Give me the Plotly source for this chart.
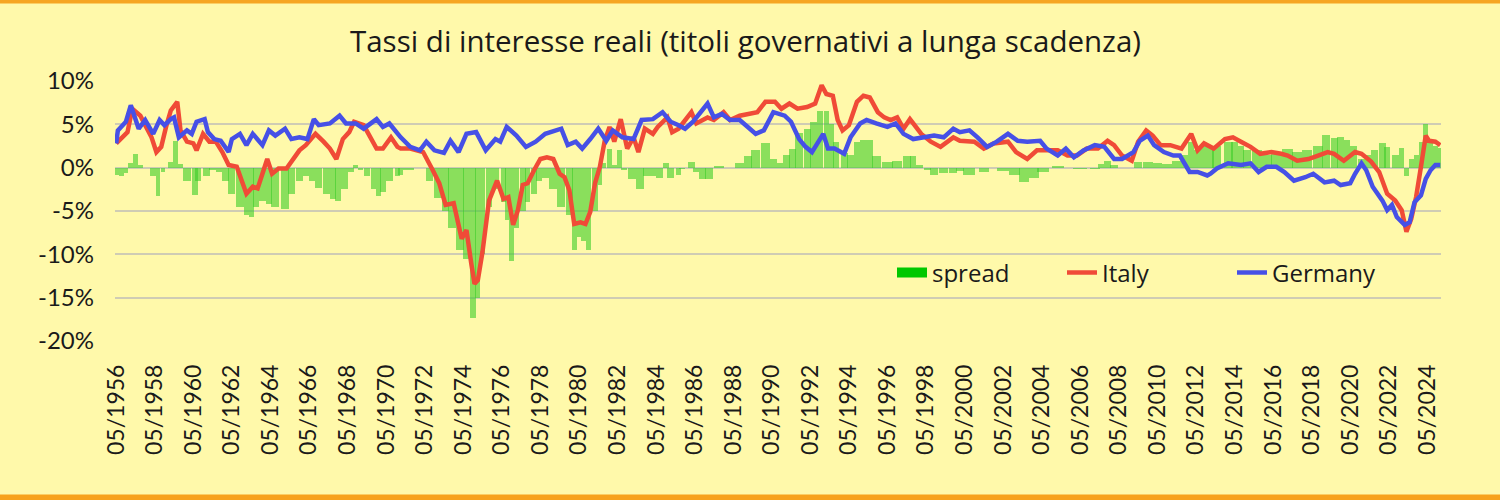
import numpy as np
import pandas as pd
import plotly.graph_objects as go

# ---------------- data ----------------
italy_dates = [
    "1956-05", "1956-09", "1956-12", "1957-03", "1957-08", "1957-11", "1958-03", "1958-06", "1958-09", "1958-12",
    "1959-03", "1959-07", "1959-09", "1960-01", "1960-05", "1960-07", "1960-11", "1961-03", "1961-07", "1961-11",
    "1962-03", "1962-08", "1963-02", "1963-06", "1963-09", "1963-12", "1964-03", "1964-06", "1964-10", "1965-03",
    "1965-07", "1965-11", "1966-03", "1966-09", "1967-02", "1967-06", "1967-10", "1968-02", "1968-06", "1968-09",
    "1969-03", "1969-07", "1969-11", "1970-03", "1970-08", "1970-12", "1971-02", "1971-08", "1972-04", "1972-10",
    "1973-02", "1973-06", "1973-11", "1974-04", "1974-07", "1974-10", "1974-12", "1975-02", "1975-05", "1975-09",
    "1976-02", "1976-06", "1976-09", "1976-12", "1977-03", "1977-06", "1977-09", "1978-01", "1978-05", "1978-09",
    "1979-01", "1979-05", "1979-08", "1979-11", "1980-02", "1980-06", "1980-09", "1980-12", "1981-03", "1981-06",
    "1981-09", "1981-12", "1982-03", "1982-07", "1982-11", "1983-03", "1983-06", "1983-10", "1984-03", "1984-06",
    "1984-12", "1985-03", "1985-07", "1986-03", "1986-06", "1987-01", "1987-05", "1987-11", "1988-03", "1988-09",
    "1989-03", "1989-08", "1990-01", "1990-07", "1990-11", "1991-04", "1991-09", "1992-03", "1992-08", "1992-12",
    "1993-03", "1993-07", "1993-10", "1994-01", "1994-05", "1994-10", "1995-02", "1995-06", "1995-11", "1996-03",
    "1996-07", "1996-11", "1997-03", "1997-07", "1998-02", "1998-08", "1999-02", "1999-06", "1999-10", "2000-02",
    "2000-07", "2000-11", "2001-05", "2001-11", "2002-08", "2003-01", "2003-08", "2004-02", "2004-08", "2005-03",
    "2005-09", "2006-03", "2006-09", "2007-04", "2007-10", "2008-02", "2008-07", "2009-01", "2009-05", "2009-10",
    "2010-02", "2010-07", "2011-01", "2011-08", "2012-02", "2012-06", "2012-10", "2013-04", "2013-11", "2014-04",
    "2014-09", "2015-03", "2015-09", "2016-04", "2016-10", "2017-02", "2017-08", "2018-03", "2018-09", "2019-03",
    "2019-07", "2020-01", "2020-08", "2020-12", "2021-06", "2021-11", "2022-04", "2022-09", "2023-01", "2023-04",
    "2023-07", "2023-10", "2024-01", "2024-04", "2024-06", "2024-10", "2025-01",
]
italy_vals = [
    2.8, 3.5, 4.1, 6.8, 6.0, 4.9, 3.5, 1.8, 2.4, 4.7,
    6.6, 7.6, 4.3, 3.0, 2.8, 2.0, 3.9, 3.0, 3.0, 1.8,
    0.3, 0.1, -3.0, -2.2, -2.4, -0.7, 1.0, -0.7, -0.1, -0.1,
    1.0, 2.0, 2.6, 3.9, 3.0, 2.2, 1.0, 3.3, 4.1, 5.3,
    4.9, 3.5, 2.2, 2.2, 3.5, 2.4, 2.2, 2.2, 1.8, -0.3,
    -1.8, -4.3, -4.1, -8.2, -7.2, -11.1, -13.4, -13.0, -9.7, -3.8,
    -1.5, -3.6, -3.4, -6.6, -4.9, -2.0, -1.8, -0.3, 1.0, 1.2,
    1.0, -0.7, -1.1, -2.6, -6.5, -6.3, -6.5, -5.1, -1.8, 0.1,
    3.1, 4.7, 3.0, 5.6, 2.2, 3.5, 1.8, 4.5, 3.9, 4.7,
    5.8, 4.1, 4.5, 6.4, 5.1, 5.8, 5.5, 6.4, 5.5, 6.0,
    6.2, 6.4, 7.6, 7.6, 6.8, 7.4, 6.8, 7.0, 7.4, 9.5,
    8.5, 8.3, 5.5, 4.3, 4.9, 7.6, 8.3, 8.1, 6.4, 5.8,
    5.5, 5.8, 4.5, 5.6, 3.9, 3.0, 2.4, 3.0, 3.5, 3.1,
    3.1, 3.0, 2.2, 2.8, 3.0, 1.8, 1.0, 2.0, 2.0, 2.0,
    1.4, 1.4, 2.2, 2.2, 3.1, 2.6, 1.4, 0.8, 3.0, 4.3,
    3.7, 2.6, 2.6, 2.2, 3.9, 2.0, 2.8, 2.2, 3.3, 3.5,
    3.0, 2.4, 1.6, 1.8, 1.6, 1.4, 0.8, 1.0, 1.4, 1.8,
    1.6, 0.8, 1.8, 1.6, 0.7, -0.5, -3.0, -3.8, -4.9, -7.4,
    -5.9, -3.4, 0.1, 3.7, 3.1, 3.0, 2.6,
]

germany_dates = [
    "1956-05", "1956-06", "1956-09", "1956-11", "1957-02", "1957-05", "1957-07", "1957-11", "1958-04", "1958-08",
    "1958-11", "1959-03", "1959-05", "1959-08", "1960-01", "1960-04", "1960-07", "1960-12", "1961-02", "1961-06",
    "1961-10", "1962-03", "1962-05", "1962-10", "1963-02", "1963-06", "1963-12", "1964-04", "1964-08", "1965-02",
    "1965-06", "1965-11", "1966-04", "1966-08", "1966-11", "1967-06", "1967-12", "1968-04", "1968-10", "1969-03",
    "1969-11", "1970-03", "1970-07", "1971-02", "1971-08", "1972-02", "1972-06", "1972-11", "1973-05", "1973-09",
    "1974-02", "1974-07", "1975-01", "1975-07", "1976-01", "1976-04", "1976-08", "1977-02", "1977-08", "1978-02",
    "1978-08", "1979-06", "1979-10", "1980-03", "1980-07", "1980-12", "1981-05", "1981-10", "1982-02", "1982-08",
    "1983-03", "1983-08", "1984-03", "1984-09", "1985-02", "1985-07", "1985-11", "1986-04", "1986-08", "1987-01",
    "1987-05", "1987-10", "1988-03", "1988-09", "1989-02", "1989-07", "1989-12", "1990-06", "1991-01", "1991-05",
    "1991-10", "1992-02", "1992-06", "1992-10", "1993-01", "1993-04", "1993-08", "1994-02", "1994-06", "1994-12",
    "1995-04", "1995-10", "1996-05", "1996-10", "1997-03", "1997-09", "1998-04", "1998-10", "1999-04", "1999-10",
    "2000-02", "2000-08", "2001-01", "2001-07", "2002-01", "2002-08", "2003-02", "2003-08", "2004-04", "2004-08",
    "2005-03", "2005-08", "2006-01", "2006-07", "2007-02", "2007-08", "2008-02", "2008-07", "2009-02", "2009-06",
    "2009-11", "2010-03", "2010-09", "2011-03", "2011-07", "2012-01", "2012-06", "2012-12", "2013-02", "2013-06",
    "2014-01", "2014-09", "2015-03", "2015-08", "2016-01", "2016-07", "2016-12", "2017-06", "2018-01", "2018-06",
    "2019-01", "2019-07", "2019-11", "2020-05", "2020-08", "2020-12", "2021-03", "2021-07", "2022-01", "2022-04",
    "2022-07", "2022-10", "2023-03", "2023-06", "2023-09", "2024-01", "2024-04", "2024-07", "2024-10", "2025-01",
]
germany_vals = [
    2.8, 4.3, 4.9, 5.3, 7.2, 5.6, 4.5, 5.5, 3.9, 5.5,
    4.9, 5.6, 5.8, 3.5, 4.3, 3.9, 5.3, 5.6, 4.1, 3.3,
    3.1, 1.8, 3.3, 3.9, 2.6, 3.9, 2.6, 4.3, 3.7, 4.5,
    3.3, 3.5, 3.3, 5.6, 4.9, 5.1, 6.0, 5.1, 5.1, 4.5,
    5.6, 4.7, 5.1, 3.5, 2.4, 2.0, 3.0, 2.0, 1.7, 3.1,
    1.8, 3.9, 4.1, 2.0, 3.3, 3.0, 4.7, 3.7, 2.4, 3.0,
    3.9, 4.5, 2.6, 3.0, 2.2, 3.3, 4.5, 3.1, 4.3, 3.5,
    3.3, 5.5, 5.6, 6.4, 5.3, 4.9, 4.5, 5.3, 6.2, 7.4,
    5.8, 6.2, 5.5, 5.5, 4.7, 3.9, 4.3, 6.4, 6.0, 5.3,
    3.3, 2.4, 1.8, 3.0, 3.9, 2.2, 2.2, 1.6, 3.5, 5.1,
    5.5, 5.1, 4.7, 5.1, 3.9, 3.3, 3.5, 3.7, 3.5, 4.5,
    4.1, 4.3, 3.5, 2.4, 3.0, 3.9, 3.1, 3.0, 3.1, 2.2,
    1.4, 2.2, 1.2, 2.0, 2.6, 2.4, 1.0, 1.0, 1.8, 3.1,
    3.7, 2.6, 1.8, 1.4, 1.4, -0.5, -0.5, -0.9, -0.7, -0.1,
    0.5, 0.3, 0.5, -0.5, 0.1, 0.1, -0.5, -1.5, -1.1, -0.7,
    -1.7, -1.5, -2.0, -1.8, -0.7, 0.5, -0.3, -2.2, -3.8, -4.9,
    -4.3, -5.7, -6.6, -6.3, -4.0, -3.2, -1.3, -0.3, 0.3, 0.3,
]

spread_dates = [
    "1956-05", "1956-08", "1956-11", "1957-02", "1957-05", "1957-08", "1957-11", "1958-04", "1958-07", "1958-10",
    "1958-12", "1959-03", "1959-06", "1959-09", "1960-01", "1960-06", "1960-08", "1961-01", "1961-05", "1961-09",
    "1962-01", "1962-05", "1962-10", "1963-02", "1963-05", "1963-08", "1963-12", "1964-04", "1964-08", "1965-02",
    "1965-06", "1965-11", "1966-03", "1966-07", "1966-11", "1967-04", "1967-08", "1967-11", "1968-03", "1968-07",
    "1968-10", "1969-01", "1969-05", "1969-09", "1969-12", "1970-03", "1970-07", "1970-12", "1971-02", "1971-07",
    "1972-04", "1972-08", "1973-01", "1973-06", "1973-10", "1974-03", "1974-07", "1974-11", "1975-02", "1975-05",
    "1975-09", "1976-01", "1976-06", "1976-08", "1976-11", "1977-02", "1977-06", "1977-09", "1978-01", "1978-04",
    "1978-08", "1979-01", "1979-06", "1979-11", "1980-02", "1980-05", "1980-08", "1980-11", "1981-03", "1981-06",
    "1981-08", "1981-12", "1982-03", "1982-06", "1982-09", "1983-02", "1983-07", "1983-11", "1984-03", "1984-07",
    "1984-11", "1985-02", "1985-07", "1985-09", "1986-03", "1986-06", "1986-10", "1987-02", "1987-08", "1988-03",
    "1988-09", "1989-02", "1989-07", "1990-01", "1990-06", "1990-10", "1991-02", "1991-06", "1991-10", "1992-03",
    "1992-07", "1992-11", "1993-03", "1993-06", "1993-09", "1994-02", "1994-06", "1994-10", "1995-02", "1995-06",
    "1995-10", "1996-05", "1996-11", "1997-05", "1997-09", "1998-01", "1998-06", "1998-10", "1999-04", "1999-10",
    "2000-02", "2000-08", "2001-05", "2001-09", "2002-05", "2002-12", "2003-06", "2003-12", "2004-06", "2005-03",
    "2005-09", "2006-05", "2007-02", "2007-06", "2007-10", "2008-02", "2008-07", "2009-01", "2009-05", "2009-11",
    "2010-05", "2010-11", "2011-05", "2011-10", "2012-02", "2012-06", "2012-10", "2013-02", "2013-06", "2014-01",
    "2014-05", "2014-09", "2015-01", "2015-07", "2016-01", "2016-07", "2017-02", "2017-08", "2018-02", "2018-09",
    "2019-02", "2019-07", "2019-11", "2020-03", "2020-07", "2020-12", "2021-04", "2021-08", "2022-01", "2022-04",
    "2022-09", "2023-01", "2023-04", "2023-07", "2023-10", "2024-01", "2024-04", "2024-07", "2024-10", "2025-01",
]
spread_vals = [
    -0.8, -1.0, -0.6, 0.5, 1.6, 0.3, 0.0, -1.0, -3.3, -0.5,
    0.0, 0.7, 3.1, 0.4, -1.5, -3.2, -1.5, -1.0, -0.3, -0.5,
    -1.5, -3.0, -4.5, -5.5, -5.7, -4.5, -3.8, -4.2, -4.5, -4.8,
    -3.0, -1.5, -1.0, -1.5, -2.3, -3.0, -3.6, -3.8, -2.5, -0.5,
    0.3, -0.3, -1.0, -2.5, -3.3, -2.8, -1.5, -1.0, -0.8, -0.3,
    0.0, -1.5, -3.5, -5.0, -7.0, -9.5, -10.5, -17.3, -15.0, -10.0,
    -4.5, -2.5, -4.0, -6.0, -10.8, -7.0, -5.0, -4.0, -3.0, -1.5,
    -1.2, -2.5, -4.5, -5.5, -9.5, -8.0, -8.5, -9.5, -5.0, -2.0,
    0.5, 2.2, 0.3, 2.0, -0.3, -1.3, -2.5, -1.0, -1.0, -1.2,
    0.5, -1.2, -0.8, -0.2, 0.6, -0.5, -1.3, -1.3, 0.2, 0.0,
    0.5, 1.3, 2.0, 2.9, 1.0, 0.5, 1.5, 2.2, 4.0, 4.5,
    5.3, 6.5, 6.5, 5.0, 3.0, 1.7, 1.5, 3.0, 3.2, 3.2,
    1.3, 0.6, 0.8, 1.4, 1.4, 0.3, -0.3, -0.8, -0.6, -0.6,
    -0.4, -0.8, -0.5, 0.0, -0.4, -0.9, -1.6, -1.2, -0.5, 0.2,
    0.0, -0.1, -0.2, 0.4, 0.8, 0.3, 0.0, 0.0, 0.7, 0.6,
    0.5, 0.4, 0.8, 1.5, 3.0, 2.0, 2.8, 2.5, 2.5, 3.0,
    3.0, 2.5, 2.0, 2.0, 1.5, 1.6, 2.2, 1.8, 2.0, 2.5,
    3.8, 3.4, 3.5, 3.2, 2.5, 1.0, 1.5, 2.0, 2.8, 2.4,
    1.5, 2.3, -1.0, 1.0, 1.5, 3.0, 5.0, 3.3, 2.5, 2.3,
]

tick_years = list(range(1956, 2025, 2))
tick_vals = [f"{y}-05-01" for y in tick_years]
tick_text = [f"05/{y}" for y in tick_years]
y_ticks = [-20, -15, -10, -5, 0, 5, 10]

title_text = "Tassi di interesse reali (titoli governativi a lunga scadenza)"

# ---------------- figure ----------------
BG = "#FFF9AA"
FONT = "Lato, 'Noto Sans', sans-serif"
FONT_WIDE = "'Open Sans', Lato, sans-serif"

sp_t = pd.to_datetime(spread_dates)
ms = sp_t.values.astype("datetime64[ms]").astype("int64").astype(float)
bar_widths = np.gradient(ms)

fig = go.Figure()
fig.add_trace(go.Bar(
    x=spread_dates, y=spread_vals, width=bar_widths, name="spread",
    marker=dict(color="rgba(60,205,40,0.6)", line=dict(width=0)),
    showlegend=False,
))
# legend proxy for the spread swatch
fig.add_trace(go.Scatter(
    x=[None], y=[None], mode="lines", name="spread",
    line=dict(color="#00C800", width=14),
))
fig.add_trace(go.Scatter(
    x=italy_dates, y=italy_vals, mode="lines", name="Italy",
    line=dict(color="#F04B37", width=4.5),
))
fig.add_trace(go.Scatter(
    x=germany_dates, y=germany_vals, mode="lines", name="Germany",
    line=dict(color="#4650E6", width=4.5),
))

fig.update_layout(
    width=1500, height=500, autosize=False,
    margin=dict(l=115, r=59, t=81, b=159),
    paper_bgcolor=BG, plot_bgcolor=BG,
    font=dict(family=FONT, color="#1a1a1a"),
    barmode="overlay", bargap=0,
    title=dict(text=title_text, x=0.497, xref="container", xanchor="center",
               y=0.916, yref="container", yanchor="middle",
               font=dict(size=29.5, family=FONT_WIDE, color="#1a1a1a")),
    legend=dict(orientation="h", x=(892 - 115) / 1326, xanchor="left", y=0.262, yanchor="middle",
                font=dict(size=24, family=FONT_WIDE, color="#1a1a1a"),
                bgcolor="rgba(0,0,0,0)", traceorder="normal",
                entrywidth=125, entrywidthmode="pixels"),
    xaxis=dict(type="date", range=["1956-04-08", "2025-01-15"],
               tickmode="array", tickvals=tick_vals, ticktext=tick_text,
               tickangle=-90, tickfont=dict(size=23, family=FONT, color="#1a1a1a"),
               showgrid=False, zeroline=False, showline=False, ticks="",
               ticklabelstandoff=18),
    yaxis=dict(range=[-20, 10], tickmode="array", tickvals=y_ticks,
               ticktext=[f"{v}%" for v in y_ticks],
               tickfont=dict(size=24, family=FONT, color="#1a1a1a"),
               showgrid=True, gridcolor="#CFCCB4", gridwidth=1.5,
               zeroline=False, showline=False, ticks="", ticklabelstandoff=20),
    shapes=[
        dict(type="rect", xref="paper", yref="paper", x0=-0.1, x1=1.06,
             y0=1 + 77.5 / 260, y1=1 + 90 / 260, fillcolor="#F6A623",
             line=dict(width=0), layer="above"),
        dict(type="rect", xref="paper", yref="paper", x0=-0.1, x1=1.06,
             y0=-(159 + 5) / 260, y1=-(159 - 5.5) / 260, fillcolor="#F7A21B",
             line=dict(width=0), layer="above"),
    ],
)

fig.write_html("out.html")
